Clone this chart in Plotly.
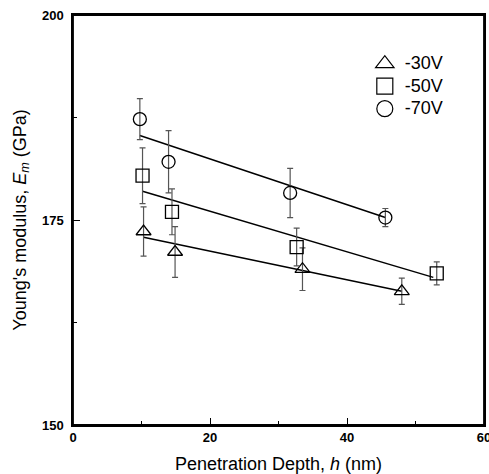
import plotly.graph_objects as go

# Data
series_names = ["-30V", "-50V", "-70V"]
symbols = ["triangle-up-open", "square-open", "circle-open"]

x30 = [10.3, 14.9, 33.5, 48.0]
y30 = [173.6, 171.1, 169.0, 166.3]
e30 = [3.0, 3.1, 2.6, 1.6]

x50 = [10.15, 14.45, 32.65, 53.1]
y50 = [180.4, 176.0, 171.7, 168.5]
e50 = [3.4, 2.8, 2.3, 1.4]

x70 = [9.76, 13.95, 31.7, 45.6]
y70 = [187.3, 182.1, 178.3, 175.3]
e70 = [2.5, 3.8, 3.0, 1.1]

# linear fit lines (end points)
fit30_x = [10.3, 48.0]
fit30_y = [172.9, 166.3]
fit50_x = [10.15, 52.6]
fit50_y = [178.5, 168.0]
fit70_x = [9.76, 45.6]
fit70_y = [185.3, 175.3]

x_ticks = [0, 20, 40, 60]
y_ticks = [150, 175, 200]

xs = [x30, x50, x70]
ys = [y30, y50, y70]
es = [e30, e50, e70]
fits = [(fit30_x, fit30_y), (fit50_x, fit50_y), (fit70_x, fit70_y)]

fig = go.Figure()

for fx, fy in fits:
    fig.add_trace(go.Scatter(x=fx, y=fy, mode="lines",
                             line=dict(color="black", width=1.5),
                             showlegend=False, hoverinfo="skip"))

for name, sym, x, y, e in zip(series_names, symbols, xs, ys, es):
    fig.add_trace(go.Scatter(
        x=x, y=y, mode="markers", name=name, showlegend=False,
        marker=dict(symbol=sym, size=13, color="black", line=dict(width=1.3, color="black")),
        error_y=dict(type="data", array=e, visible=True, color="#555555", thickness=1.2, width=3),
    ))

# legend-only entries (larger symbols, like the reference legend)
for name, sym in zip(series_names, symbols):
    fig.add_trace(go.Scatter(
        x=[None], y=[None], mode="markers",
        name="<span style='font-size:18px'>" + name + "</span>",
        marker=dict(symbol=sym, size=16, color="black", line=dict(width=1.2, color="black")),
    ))

font_family = "Liberation Sans, Arial, sans-serif"

fig.update_layout(
    width=489, height=474,
    margin=dict(l=73, r=5, t=15, b=49),
    paper_bgcolor="white", plot_bgcolor="white",
    font=dict(family=font_family, color="black"),
    showlegend=True,
    legend=dict(x=0.71, y=0.921, xanchor="left", yanchor="top",
                bgcolor="rgba(0,0,0,0)", font=dict(size=15, family=font_family),
                itemsizing="trace", tracegroupgap=0),
    xaxis=dict(range=[0, 60], tickvals=x_ticks, ticks="inside", ticklen=7,
               tickwidth=1, tickcolor="black", automargin=False, ticklabeloverflow="allow",
               minor=dict(tickvals=[10, 30, 50], ticks="inside", ticklen=4, tickcolor="black"),
               showline=True, linecolor="black", linewidth=1.5, mirror=True,
               showgrid=False, zeroline=False,
               tickfont=dict(size=13, family=font_family, weight="bold"),
               title=dict(text="Penetration Depth, <i>h</i> (nm)", font=dict(size=18), standoff=14)),
    yaxis=dict(range=[150, 200], tickvals=y_ticks, ticks="inside", ticklen=7,
               tickwidth=1, tickcolor="black", automargin=False, ticklabeloverflow="allow",
               minor=dict(tickvals=[162.5, 187.5], ticks="inside", ticklen=4, tickcolor="black"),
               showline=True, linecolor="black", linewidth=1.5, mirror=True,
               showgrid=False, zeroline=False, ticklabelstandoff=5,
               tickfont=dict(size=13, family=font_family, weight="bold"),
               title=dict(text="Young's modulus, <i>E<sub>m</sub></i> (GPa)", font=dict(size=18), standoff=11)),
)

# explicit frame around the plotting area
fig.add_shape(type="rect", xref="paper", yref="paper", x0=0, y0=0, x1=1, y1=1,
              line=dict(color="black", width=1.8), fillcolor="rgba(0,0,0,0)", layer="above")

# remove the browser's default 8px body margin so the figure sits at the page origin
fig.write_html("out.html",
               config={"displayModeBar": False},
               post_script="document.body.style.margin='0px';document.body.style.overflow='hidden';")
